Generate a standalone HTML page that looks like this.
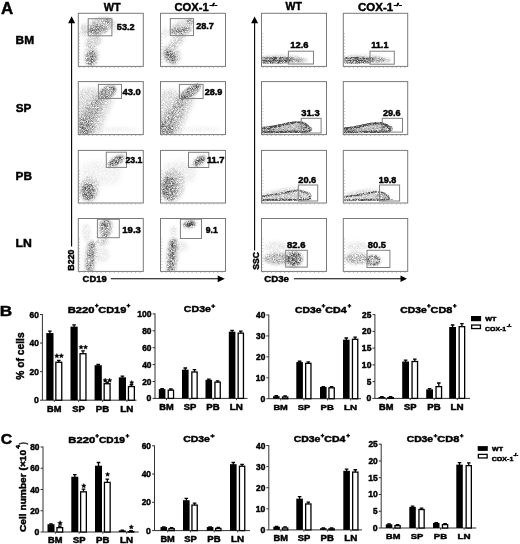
<!DOCTYPE html><html><head><meta charset="utf-8"><style>html,body{margin:0;padding:0;background:#fff;}svg{display:block;filter:grayscale(1) blur(0.3px);}text{font-family:"Liberation Sans",sans-serif;font-weight:bold;fill:#000;stroke:#000;stroke-width:0.45px;stroke-linejoin:round;}</style></head><body>
<svg width="520" height="544" viewBox="0 0 520 544">
<rect width="520" height="544" fill="#fff"/>
<defs>
<filter id="g0_5" filterUnits="userSpaceOnUse" x="-60" y="-60" width="200" height="200"><feGaussianBlur stdDeviation="0.5"/></filter>
<filter id="g0_6" filterUnits="userSpaceOnUse" x="-60" y="-60" width="200" height="200"><feGaussianBlur stdDeviation="0.6"/></filter>
<filter id="g0_7" filterUnits="userSpaceOnUse" x="-60" y="-60" width="200" height="200"><feGaussianBlur stdDeviation="0.7"/></filter>
<filter id="g0_8" filterUnits="userSpaceOnUse" x="-60" y="-60" width="200" height="200"><feGaussianBlur stdDeviation="0.8"/></filter>
<filter id="g0_9" filterUnits="userSpaceOnUse" x="-60" y="-60" width="200" height="200"><feGaussianBlur stdDeviation="0.9"/></filter>
<filter id="g1_0" filterUnits="userSpaceOnUse" x="-60" y="-60" width="200" height="200"><feGaussianBlur stdDeviation="1.0"/></filter>
<filter id="g1_1" filterUnits="userSpaceOnUse" x="-60" y="-60" width="200" height="200"><feGaussianBlur stdDeviation="1.1"/></filter>
<filter id="g1_2" filterUnits="userSpaceOnUse" x="-60" y="-60" width="200" height="200"><feGaussianBlur stdDeviation="1.2"/></filter>
<filter id="g1_3" filterUnits="userSpaceOnUse" x="-60" y="-60" width="200" height="200"><feGaussianBlur stdDeviation="1.3"/></filter>
<filter id="g1_6" filterUnits="userSpaceOnUse" x="-60" y="-60" width="200" height="200"><feGaussianBlur stdDeviation="1.6"/></filter>
<filter id="g2_0" filterUnits="userSpaceOnUse" x="-60" y="-60" width="200" height="200"><feGaussianBlur stdDeviation="2.0"/></filter>
<filter id="g2_5" filterUnits="userSpaceOnUse" x="-60" y="-60" width="200" height="200"><feGaussianBlur stdDeviation="2.5"/></filter>
<clipPath id="cp00"><rect x="78.80" y="13.80" width="64.00" height="52.00"/></clipPath>
<filter id="sp00" filterUnits="userSpaceOnUse" x="-2" y="-2" width="69.0" height="57.0" color-interpolation-filters="sRGB"><feGaussianBlur in="SourceGraphic" stdDeviation="0.4" result="b"/><feTurbulence type="fractalNoise" baseFrequency="1.8" numOctaves="1" seed="3" result="n"/><feColorMatrix in="n" type="matrix" values="0 0 0 0 0  0 0 0 0 0  0 0 0 0 0  1.8 0 0 0 -0.4" result="na"/><feComposite in="b" in2="na" operator="arithmetic" k1="1.6" k2="0" k3="0" k4="0" result="m"/><feFlood flood-color="#2a2a2a" flood-opacity="0.85"/><feComposite in2="m" operator="in"/><feGaussianBlur stdDeviation="0.3"/></filter>
<clipPath id="cp01"><rect x="161.00" y="13.80" width="64.00" height="52.00"/></clipPath>
<filter id="sp01" filterUnits="userSpaceOnUse" x="-2" y="-2" width="69.0" height="57.0" color-interpolation-filters="sRGB"><feGaussianBlur in="SourceGraphic" stdDeviation="0.4" result="b"/><feTurbulence type="fractalNoise" baseFrequency="1.8" numOctaves="1" seed="4" result="n"/><feColorMatrix in="n" type="matrix" values="0 0 0 0 0  0 0 0 0 0  0 0 0 0 0  1.8 0 0 0 -0.4" result="na"/><feComposite in="b" in2="na" operator="arithmetic" k1="1.6" k2="0" k3="0" k4="0" result="m"/><feFlood flood-color="#2a2a2a" flood-opacity="0.85"/><feComposite in2="m" operator="in"/><feGaussianBlur stdDeviation="0.3"/></filter>
<clipPath id="cp02"><rect x="262.00" y="13.80" width="64.00" height="52.00"/></clipPath>
<filter id="sp02" filterUnits="userSpaceOnUse" x="-2" y="-2" width="69.0" height="57.0" color-interpolation-filters="sRGB"><feGaussianBlur in="SourceGraphic" stdDeviation="0.4" result="b"/><feTurbulence type="fractalNoise" baseFrequency="1.8" numOctaves="1" seed="5" result="n"/><feColorMatrix in="n" type="matrix" values="0 0 0 0 0  0 0 0 0 0  0 0 0 0 0  1.6 0 0 0 -0.30000000000000004" result="na"/><feComposite in="b" in2="na" operator="arithmetic" k1="1.7" k2="0" k3="0" k4="0" result="m"/><feFlood flood-color="#2a2a2a" flood-opacity="0.85"/><feComposite in2="m" operator="in"/><feGaussianBlur stdDeviation="0.3"/></filter>
<clipPath id="cp03"><rect x="343.80" y="13.80" width="64.00" height="52.00"/></clipPath>
<filter id="sp03" filterUnits="userSpaceOnUse" x="-2" y="-2" width="69.0" height="57.0" color-interpolation-filters="sRGB"><feGaussianBlur in="SourceGraphic" stdDeviation="0.4" result="b"/><feTurbulence type="fractalNoise" baseFrequency="1.8" numOctaves="1" seed="6" result="n"/><feColorMatrix in="n" type="matrix" values="0 0 0 0 0  0 0 0 0 0  0 0 0 0 0  1.6 0 0 0 -0.30000000000000004" result="na"/><feComposite in="b" in2="na" operator="arithmetic" k1="1.7" k2="0" k3="0" k4="0" result="m"/><feFlood flood-color="#2a2a2a" flood-opacity="0.85"/><feComposite in2="m" operator="in"/><feGaussianBlur stdDeviation="0.3"/></filter>
<clipPath id="cp10"><rect x="78.80" y="82.10" width="64.00" height="52.00"/></clipPath>
<filter id="sp10" filterUnits="userSpaceOnUse" x="-2" y="-2" width="69.0" height="57.0" color-interpolation-filters="sRGB"><feGaussianBlur in="SourceGraphic" stdDeviation="0.4" result="b"/><feTurbulence type="fractalNoise" baseFrequency="1.8" numOctaves="1" seed="7" result="n"/><feColorMatrix in="n" type="matrix" values="0 0 0 0 0  0 0 0 0 0  0 0 0 0 0  1.8 0 0 0 -0.4" result="na"/><feComposite in="b" in2="na" operator="arithmetic" k1="1.6" k2="0" k3="0" k4="0" result="m"/><feFlood flood-color="#2a2a2a" flood-opacity="0.85"/><feComposite in2="m" operator="in"/><feGaussianBlur stdDeviation="0.3"/></filter>
<clipPath id="cp11"><rect x="161.00" y="82.10" width="64.00" height="52.00"/></clipPath>
<filter id="sp11" filterUnits="userSpaceOnUse" x="-2" y="-2" width="69.0" height="57.0" color-interpolation-filters="sRGB"><feGaussianBlur in="SourceGraphic" stdDeviation="0.4" result="b"/><feTurbulence type="fractalNoise" baseFrequency="1.8" numOctaves="1" seed="8" result="n"/><feColorMatrix in="n" type="matrix" values="0 0 0 0 0  0 0 0 0 0  0 0 0 0 0  1.8 0 0 0 -0.4" result="na"/><feComposite in="b" in2="na" operator="arithmetic" k1="1.6" k2="0" k3="0" k4="0" result="m"/><feFlood flood-color="#2a2a2a" flood-opacity="0.85"/><feComposite in2="m" operator="in"/><feGaussianBlur stdDeviation="0.3"/></filter>
<clipPath id="cp12"><rect x="262.00" y="82.10" width="64.00" height="52.00"/></clipPath>
<filter id="sp12" filterUnits="userSpaceOnUse" x="-2" y="-2" width="69.0" height="57.0" color-interpolation-filters="sRGB"><feGaussianBlur in="SourceGraphic" stdDeviation="0.4" result="b"/><feTurbulence type="fractalNoise" baseFrequency="1.8" numOctaves="1" seed="9" result="n"/><feColorMatrix in="n" type="matrix" values="0 0 0 0 0  0 0 0 0 0  0 0 0 0 0  1.4 0 0 0 -0.19999999999999996" result="na"/><feComposite in="b" in2="na" operator="arithmetic" k1="1.8" k2="0" k3="0" k4="0" result="m"/><feFlood flood-color="#2a2a2a" flood-opacity="0.85"/><feComposite in2="m" operator="in"/><feGaussianBlur stdDeviation="0.3"/></filter>
<clipPath id="cp13"><rect x="343.80" y="82.10" width="64.00" height="52.00"/></clipPath>
<filter id="sp13" filterUnits="userSpaceOnUse" x="-2" y="-2" width="69.0" height="57.0" color-interpolation-filters="sRGB"><feGaussianBlur in="SourceGraphic" stdDeviation="0.4" result="b"/><feTurbulence type="fractalNoise" baseFrequency="1.8" numOctaves="1" seed="10" result="n"/><feColorMatrix in="n" type="matrix" values="0 0 0 0 0  0 0 0 0 0  0 0 0 0 0  1.4 0 0 0 -0.19999999999999996" result="na"/><feComposite in="b" in2="na" operator="arithmetic" k1="1.8" k2="0" k3="0" k4="0" result="m"/><feFlood flood-color="#2a2a2a" flood-opacity="0.85"/><feComposite in2="m" operator="in"/><feGaussianBlur stdDeviation="0.3"/></filter>
<clipPath id="cp20"><rect x="78.80" y="150.90" width="64.00" height="52.00"/></clipPath>
<filter id="sp20" filterUnits="userSpaceOnUse" x="-2" y="-2" width="69.0" height="57.0" color-interpolation-filters="sRGB"><feGaussianBlur in="SourceGraphic" stdDeviation="0.4" result="b"/><feTurbulence type="fractalNoise" baseFrequency="1.8" numOctaves="1" seed="11" result="n"/><feColorMatrix in="n" type="matrix" values="0 0 0 0 0  0 0 0 0 0  0 0 0 0 0  1.8 0 0 0 -0.4" result="na"/><feComposite in="b" in2="na" operator="arithmetic" k1="1.6" k2="0" k3="0" k4="0" result="m"/><feFlood flood-color="#2a2a2a" flood-opacity="0.85"/><feComposite in2="m" operator="in"/><feGaussianBlur stdDeviation="0.3"/></filter>
<clipPath id="cp21"><rect x="161.00" y="150.90" width="64.00" height="52.00"/></clipPath>
<filter id="sp21" filterUnits="userSpaceOnUse" x="-2" y="-2" width="69.0" height="57.0" color-interpolation-filters="sRGB"><feGaussianBlur in="SourceGraphic" stdDeviation="0.4" result="b"/><feTurbulence type="fractalNoise" baseFrequency="1.8" numOctaves="1" seed="12" result="n"/><feColorMatrix in="n" type="matrix" values="0 0 0 0 0  0 0 0 0 0  0 0 0 0 0  1.8 0 0 0 -0.4" result="na"/><feComposite in="b" in2="na" operator="arithmetic" k1="1.6" k2="0" k3="0" k4="0" result="m"/><feFlood flood-color="#2a2a2a" flood-opacity="0.85"/><feComposite in2="m" operator="in"/><feGaussianBlur stdDeviation="0.3"/></filter>
<clipPath id="cp22"><rect x="262.00" y="150.90" width="64.00" height="52.00"/></clipPath>
<filter id="sp22" filterUnits="userSpaceOnUse" x="-2" y="-2" width="69.0" height="57.0" color-interpolation-filters="sRGB"><feGaussianBlur in="SourceGraphic" stdDeviation="0.4" result="b"/><feTurbulence type="fractalNoise" baseFrequency="1.8" numOctaves="1" seed="13" result="n"/><feColorMatrix in="n" type="matrix" values="0 0 0 0 0  0 0 0 0 0  0 0 0 0 0  1.8 0 0 0 -0.4" result="na"/><feComposite in="b" in2="na" operator="arithmetic" k1="1.6" k2="0" k3="0" k4="0" result="m"/><feFlood flood-color="#2a2a2a" flood-opacity="0.85"/><feComposite in2="m" operator="in"/><feGaussianBlur stdDeviation="0.3"/></filter>
<clipPath id="cp23"><rect x="343.80" y="150.90" width="64.00" height="52.00"/></clipPath>
<filter id="sp23" filterUnits="userSpaceOnUse" x="-2" y="-2" width="69.0" height="57.0" color-interpolation-filters="sRGB"><feGaussianBlur in="SourceGraphic" stdDeviation="0.4" result="b"/><feTurbulence type="fractalNoise" baseFrequency="1.8" numOctaves="1" seed="14" result="n"/><feColorMatrix in="n" type="matrix" values="0 0 0 0 0  0 0 0 0 0  0 0 0 0 0  1.8 0 0 0 -0.4" result="na"/><feComposite in="b" in2="na" operator="arithmetic" k1="1.6" k2="0" k3="0" k4="0" result="m"/><feFlood flood-color="#2a2a2a" flood-opacity="0.85"/><feComposite in2="m" operator="in"/><feGaussianBlur stdDeviation="0.3"/></filter>
<clipPath id="cp30"><rect x="78.80" y="219.00" width="64.00" height="52.00"/></clipPath>
<filter id="sp30" filterUnits="userSpaceOnUse" x="-2" y="-2" width="69.0" height="57.0" color-interpolation-filters="sRGB"><feGaussianBlur in="SourceGraphic" stdDeviation="0.4" result="b"/><feTurbulence type="fractalNoise" baseFrequency="1.8" numOctaves="1" seed="15" result="n"/><feColorMatrix in="n" type="matrix" values="0 0 0 0 0  0 0 0 0 0  0 0 0 0 0  1.8 0 0 0 -0.4" result="na"/><feComposite in="b" in2="na" operator="arithmetic" k1="1.6" k2="0" k3="0" k4="0" result="m"/><feFlood flood-color="#2a2a2a" flood-opacity="0.85"/><feComposite in2="m" operator="in"/><feGaussianBlur stdDeviation="0.3"/></filter>
<clipPath id="cp31"><rect x="161.00" y="219.00" width="64.00" height="52.00"/></clipPath>
<filter id="sp31" filterUnits="userSpaceOnUse" x="-2" y="-2" width="69.0" height="57.0" color-interpolation-filters="sRGB"><feGaussianBlur in="SourceGraphic" stdDeviation="0.4" result="b"/><feTurbulence type="fractalNoise" baseFrequency="1.8" numOctaves="1" seed="16" result="n"/><feColorMatrix in="n" type="matrix" values="0 0 0 0 0  0 0 0 0 0  0 0 0 0 0  1.8 0 0 0 -0.4" result="na"/><feComposite in="b" in2="na" operator="arithmetic" k1="1.6" k2="0" k3="0" k4="0" result="m"/><feFlood flood-color="#2a2a2a" flood-opacity="0.85"/><feComposite in2="m" operator="in"/><feGaussianBlur stdDeviation="0.3"/></filter>
<clipPath id="cp32"><rect x="262.00" y="219.00" width="64.00" height="52.00"/></clipPath>
<filter id="sp32" filterUnits="userSpaceOnUse" x="-2" y="-2" width="69.0" height="57.0" color-interpolation-filters="sRGB"><feGaussianBlur in="SourceGraphic" stdDeviation="0.4" result="b"/><feTurbulence type="fractalNoise" baseFrequency="1.8" numOctaves="1" seed="17" result="n"/><feColorMatrix in="n" type="matrix" values="0 0 0 0 0  0 0 0 0 0  0 0 0 0 0  1.8 0 0 0 -0.4" result="na"/><feComposite in="b" in2="na" operator="arithmetic" k1="1.6" k2="0" k3="0" k4="0" result="m"/><feFlood flood-color="#2a2a2a" flood-opacity="0.85"/><feComposite in2="m" operator="in"/><feGaussianBlur stdDeviation="0.3"/></filter>
<clipPath id="cp33"><rect x="343.80" y="219.00" width="64.00" height="52.00"/></clipPath>
<filter id="sp33" filterUnits="userSpaceOnUse" x="-2" y="-2" width="69.0" height="57.0" color-interpolation-filters="sRGB"><feGaussianBlur in="SourceGraphic" stdDeviation="0.4" result="b"/><feTurbulence type="fractalNoise" baseFrequency="1.8" numOctaves="1" seed="18" result="n"/><feColorMatrix in="n" type="matrix" values="0 0 0 0 0  0 0 0 0 0  0 0 0 0 0  1.8 0 0 0 -0.4" result="na"/><feComposite in="b" in2="na" operator="arithmetic" k1="1.6" k2="0" k3="0" k4="0" result="m"/><feFlood flood-color="#2a2a2a" flood-opacity="0.85"/><feComposite in2="m" operator="in"/><feGaussianBlur stdDeviation="0.3"/></filter>
</defs>
<g clip-path="url(#cp00)"><g transform="translate(78.30,13.30)"><g filter="url(#sp00)">
<ellipse cx="22" cy="12" rx="13" ry="7.5" transform="rotate(-15 22 12)" fill="#000" fill-opacity="0.32" filter="url(#g1_6)"/>
<ellipse cx="19" cy="16.5" rx="10" ry="4.5" transform="rotate(-8 19 16.5)" fill="#000" fill-opacity="0.55" filter="url(#g1_6)"/>
<ellipse cx="29" cy="7.5" rx="3" ry="2.2" transform="rotate(-40 29 7.5)" fill="#000" fill-opacity="0.6" filter="url(#g1_0)"/>
<ellipse cx="6" cy="17" rx="4" ry="7" transform="rotate(0 6 17)" fill="#000" fill-opacity="0.2" filter="url(#g1_6)"/>
<ellipse cx="15" cy="28" rx="9" ry="6" transform="rotate(-30 15 28)" fill="#000" fill-opacity="0.25" filter="url(#g1_6)"/>
<ellipse cx="13" cy="45" rx="5" ry="8" transform="rotate(10 13 45)" fill="#000" fill-opacity="0.6" filter="url(#g1_6)"/>
<ellipse cx="13" cy="43" rx="8" ry="10" transform="rotate(0 13 43)" fill="#000" fill-opacity="0.2" filter="url(#g1_6)"/>
<ellipse cx="36" cy="13" rx="4" ry="6" transform="rotate(0 36 13)" fill="#000" fill-opacity="0.1" filter="url(#g1_6)"/>
</g></g></g>
<g clip-path="url(#cp01)"><g transform="translate(160.50,13.30)"><g filter="url(#sp01)">
<ellipse cx="20" cy="17.5" rx="11" ry="3.5" transform="rotate(-5 20 17.5)" fill="#000" fill-opacity="0.55" filter="url(#g1_6)"/>
<ellipse cx="22" cy="13" rx="12" ry="6" transform="rotate(-20 22 13)" fill="#000" fill-opacity="0.22" filter="url(#g1_6)"/>
<ellipse cx="29.5" cy="8" rx="3" ry="2" transform="rotate(-40 29.5 8)" fill="#000" fill-opacity="0.6" filter="url(#g1_0)"/>
<ellipse cx="17" cy="27" rx="10" ry="5" transform="rotate(-45 17 27)" fill="#000" fill-opacity="0.25" filter="url(#g1_6)"/>
<ellipse cx="10" cy="43" rx="5" ry="8" transform="rotate(-35 10 43)" fill="#000" fill-opacity="0.6" filter="url(#g1_6)"/>
<ellipse cx="11" cy="41" rx="9" ry="11" transform="rotate(-35 11 41)" fill="#000" fill-opacity="0.2" filter="url(#g1_6)"/>
<ellipse cx="5" cy="20" rx="3" ry="6" transform="rotate(0 5 20)" fill="#000" fill-opacity="0.12" filter="url(#g1_6)"/>
</g></g></g>
<g clip-path="url(#cp02)"><g transform="translate(261.50,13.30)"><g filter="url(#sp02)">
<ellipse cx="14" cy="46.5" rx="17" ry="3.3" transform="rotate(0 14 46.5)" fill="#000" fill-opacity="0.55" filter="url(#g0_8)"/>
<ellipse cx="13" cy="44.6" rx="17" ry="1.0" transform="rotate(0 13 44.6)" fill="#000" fill-opacity="0.8" filter="url(#g0_5)"/>
<ellipse cx="13" cy="47.3" rx="17" ry="1.0" transform="rotate(0 13 47.3)" fill="#000" fill-opacity="0.9" filter="url(#g0_5)"/>
<ellipse cx="12" cy="49.6" rx="15" ry="0.8" transform="rotate(0 12 49.6)" fill="#000" fill-opacity="0.6" filter="url(#g0_5)"/>
<ellipse cx="31" cy="46.5" rx="10" ry="2.8" transform="rotate(0 31 46.5)" fill="#000" fill-opacity="0.5" filter="url(#g1_0)"/>
<ellipse cx="40" cy="47" rx="6" ry="2.4" transform="rotate(0 40 47)" fill="#000" fill-opacity="0.25" filter="url(#g1_2)"/>
<ellipse cx="20" cy="42.2" rx="18" ry="1.0" transform="rotate(0 20 42.2)" fill="#000" fill-opacity="0.15" filter="url(#g1_0)"/>
</g></g></g>
<g clip-path="url(#cp03)"><g transform="translate(343.30,13.30)"><g filter="url(#sp03)">
<ellipse cx="14" cy="46.5" rx="17" ry="3.3" transform="rotate(0 14 46.5)" fill="#000" fill-opacity="0.55" filter="url(#g0_8)"/>
<ellipse cx="13" cy="44.6" rx="17" ry="1.0" transform="rotate(0 13 44.6)" fill="#000" fill-opacity="0.8" filter="url(#g0_5)"/>
<ellipse cx="13" cy="47.3" rx="17" ry="1.0" transform="rotate(0 13 47.3)" fill="#000" fill-opacity="0.9" filter="url(#g0_5)"/>
<ellipse cx="12" cy="49.6" rx="15" ry="0.8" transform="rotate(0 12 49.6)" fill="#000" fill-opacity="0.6" filter="url(#g0_5)"/>
<ellipse cx="32" cy="46.5" rx="10" ry="2.8" transform="rotate(0 32 46.5)" fill="#000" fill-opacity="0.5" filter="url(#g1_0)"/>
<ellipse cx="42" cy="47" rx="6" ry="2.4" transform="rotate(0 42 47)" fill="#000" fill-opacity="0.25" filter="url(#g1_2)"/>
<ellipse cx="20" cy="42.2" rx="18" ry="1.0" transform="rotate(0 20 42.2)" fill="#000" fill-opacity="0.15" filter="url(#g1_0)"/>
</g></g></g>
<g clip-path="url(#cp10)"><g transform="translate(78.30,81.60)"><g filter="url(#sp10)">
<polygon points="0,8 14,6 36,16 21,53 0,53" fill="#000" fill-opacity="0.2" filter="url(#g2_0)"/>
<polygon points="0,36 17,14 27,16 13,53 0,53" fill="#000" fill-opacity="0.35" filter="url(#g2_5)"/>
<ellipse cx="6" cy="45" rx="7" ry="9" transform="rotate(-25 6 45)" fill="#000" fill-opacity="0.4" filter="url(#g1_6)"/>
<ellipse cx="29.5" cy="10.5" rx="7.5" ry="4.6" transform="rotate(-25 29.5 10.5)" fill="#000" fill-opacity="0.5" filter="url(#g1_2)"/>
<ellipse cx="29.5" cy="10.5" rx="7.5" ry="4.6" transform="rotate(-25 29.5 10.5)" fill="none" stroke="#000" stroke-opacity="0.8" stroke-width="2.0" filter="url(#g0_8)"/>
<ellipse cx="35" cy="6.5" rx="3" ry="2" transform="rotate(-30 35 6.5)" fill="#000" fill-opacity="0.35" filter="url(#g1_0)"/>
<ellipse cx="38" cy="48" rx="22" ry="2.5" transform="rotate(0 38 48)" fill="#000" fill-opacity="0.07" filter="url(#g1_6)"/>
</g></g></g>
<g clip-path="url(#cp11)"><g transform="translate(160.50,81.60)"><g filter="url(#sp11)">
<polygon points="0,10 10,7 24,12 36,14 19,53 0,53" fill="#000" fill-opacity="0.2" filter="url(#g2_0)"/>
<polygon points="0,38 19,15 28,15 13,53 0,53" fill="#000" fill-opacity="0.35" filter="url(#g2_5)"/>
<ellipse cx="6" cy="46" rx="7" ry="8" transform="rotate(-30 6 46)" fill="#000" fill-opacity="0.4" filter="url(#g1_6)"/>
<ellipse cx="30" cy="10" rx="10.5" ry="3.3" transform="rotate(-33 30 10)" fill="#000" fill-opacity="0.5" filter="url(#g1_2)"/>
<ellipse cx="30" cy="10" rx="10.5" ry="3.3" transform="rotate(-33 30 10)" fill="none" stroke="#000" stroke-opacity="0.8" stroke-width="1.9" filter="url(#g0_8)"/>
<ellipse cx="37" cy="4.5" rx="3" ry="1.5" transform="rotate(-33 37 4.5)" fill="#000" fill-opacity="0.4" filter="url(#g1_0)"/>
<ellipse cx="38" cy="48" rx="22" ry="2.5" transform="rotate(0 38 48)" fill="#000" fill-opacity="0.07" filter="url(#g1_6)"/>
</g></g></g>
<g clip-path="url(#cp20)"><g transform="translate(78.30,150.40)"><g filter="url(#sp20)">
<ellipse cx="10" cy="41" rx="7" ry="9" transform="rotate(0 10 41)" fill="#000" fill-opacity="0.62" filter="url(#g1_6)"/>
<ellipse cx="11" cy="39" rx="10" ry="13" transform="rotate(0 11 39)" fill="#000" fill-opacity="0.2" filter="url(#g1_6)"/>
<polygon points="3,14 20,10 44,18 40,32 20,36 4,34" fill="#000" fill-opacity="0.08" filter="url(#g2_5)"/>
<ellipse cx="38" cy="10.5" rx="8.5" ry="3.4" transform="rotate(-32 38 10.5)" fill="#000" fill-opacity="0.8" filter="url(#g1_1)"/>
<ellipse cx="38" cy="10.5" rx="10" ry="5" transform="rotate(-32 38 10.5)" fill="#000" fill-opacity="0.2" filter="url(#g1_6)"/>
</g></g></g>
<g clip-path="url(#cp21)"><g transform="translate(160.50,150.40)"><g filter="url(#sp21)">
<ellipse cx="9" cy="38" rx="8" ry="12" transform="rotate(0 9 38)" fill="#000" fill-opacity="0.58" filter="url(#g1_6)"/>
<ellipse cx="12" cy="35" rx="12" ry="16" transform="rotate(0 12 35)" fill="#000" fill-opacity="0.22" filter="url(#g1_6)"/>
<polygon points="3,14 20,10 36,18 34,30 18,34 4,32" fill="#000" fill-opacity="0.1" filter="url(#g2_5)"/>
<ellipse cx="39" cy="10.5" rx="6.5" ry="3.2" transform="rotate(-38 39 10.5)" fill="#000" fill-opacity="0.85" filter="url(#g1_1)"/>
<ellipse cx="39" cy="10.5" rx="8" ry="4.5" transform="rotate(-38 39 10.5)" fill="#000" fill-opacity="0.2" filter="url(#g1_6)"/>
</g></g></g>
<g clip-path="url(#cp30)"><g transform="translate(78.30,218.50)"><g filter="url(#sp30)">
<polygon points="10.5,24 16.5,24 14.5,53 7.5,53" fill="#000" fill-opacity="0.55" filter="url(#g1_6)"/>
<ellipse cx="12.5" cy="38" rx="7" ry="17" transform="rotate(5 12.5 38)" fill="#000" fill-opacity="0.15" filter="url(#g1_6)"/>
<ellipse cx="27.5" cy="9.5" rx="6" ry="10" transform="rotate(5 27.5 9.5)" fill="#000" fill-opacity="0.55" filter="url(#g1_6)"/>
<ellipse cx="26.5" cy="5" rx="5" ry="4" transform="rotate(0 26.5 5)" fill="#000" fill-opacity="0.3" filter="url(#g1_6)"/>
<ellipse cx="24" cy="23" rx="6" ry="4" transform="rotate(0 24 23)" fill="#000" fill-opacity="0.25" filter="url(#g1_6)"/>
<ellipse cx="8" cy="14" rx="4" ry="9" transform="rotate(0 8 14)" fill="#000" fill-opacity="0.12" filter="url(#g1_6)"/>
<ellipse cx="24" cy="36" rx="7" ry="8" transform="rotate(0 24 36)" fill="#000" fill-opacity="0.1" filter="url(#g1_6)"/>
</g></g></g>
<g clip-path="url(#cp31)"><g transform="translate(160.50,218.50)"><g filter="url(#sp31)">
<polygon points="9.5,21 16,21 14.5,53 6.5,53" fill="#000" fill-opacity="0.62" filter="url(#g1_6)"/>
<ellipse cx="12" cy="36" rx="7" ry="17" transform="rotate(5 12 36)" fill="#000" fill-opacity="0.15" filter="url(#g1_6)"/>
<ellipse cx="13" cy="13" rx="3" ry="6" transform="rotate(0 13 13)" fill="#000" fill-opacity="0.15" filter="url(#g1_6)"/>
<ellipse cx="29" cy="5.8" rx="5.5" ry="2.8" transform="rotate(-8 29 5.8)" fill="#000" fill-opacity="1.0" filter="url(#g0_9)"/>
<ellipse cx="29" cy="5.8" rx="6.5" ry="3.8" transform="rotate(-8 29 5.8)" fill="#000" fill-opacity="0.3" filter="url(#g1_6)"/>
<ellipse cx="22" cy="28" rx="6" ry="5" transform="rotate(0 22 28)" fill="#000" fill-opacity="0.1" filter="url(#g1_6)"/>
</g></g></g>
<g clip-path="url(#cp12)"><g transform="translate(261.50,81.60)"><g filter="url(#sp12)">
<path d="M0,46.5 C10,46 18,44 26,42 C33,40.5 38,40 42,41.5 C45,43 47,45 48,48 C49,50 44,50.5 38,50 L10,50.5 L0,50.5 Z" fill="#000" fill-opacity="0.35" stroke="#000" stroke-opacity="1.0" stroke-width="2.2" stroke-linejoin="round" filter="url(#g0_6)"/>
<ellipse cx="6" cy="48" rx="8" ry="2.2" transform="rotate(0 6 48)" fill="#000" fill-opacity="0.55" filter="url(#g0_9)"/>
<ellipse cx="46" cy="47.5" rx="4" ry="2.2" transform="rotate(0 46 47.5)" fill="none" stroke="#000" stroke-opacity="0.7" stroke-width="1.5" filter="url(#g0_7)"/>
<ellipse cx="30" cy="46" rx="20" ry="3.5" transform="rotate(-5 30 46)" fill="#000" fill-opacity="0.1" filter="url(#g1_6)"/>
<ellipse cx="25" cy="50.2" rx="25" ry="0.7" transform="rotate(0 25 50.2)" fill="#000" fill-opacity="0.4" filter="url(#g0_5)"/>
</g></g></g>
<g clip-path="url(#cp13)"><g transform="translate(343.30,81.60)"><g filter="url(#sp13)">
<path d="M0,47 C10,46.5 18,44.5 26,42.5 C33,41 37,41 41,42.5 C44,44 46,45.5 47,48 C47.5,50 44,50.5 38,50 L10,50.5 L0,50.5 Z" fill="#000" fill-opacity="0.35" stroke="#000" stroke-opacity="1.0" stroke-width="2.2" stroke-linejoin="round" filter="url(#g0_6)"/>
<ellipse cx="6" cy="48.5" rx="8" ry="2" transform="rotate(0 6 48.5)" fill="#000" fill-opacity="0.55" filter="url(#g0_9)"/>
<ellipse cx="44" cy="47" rx="5" ry="2.4" transform="rotate(0 44 47)" fill="none" stroke="#000" stroke-opacity="0.6" stroke-width="1.5" filter="url(#g0_7)"/>
<ellipse cx="30" cy="46" rx="20" ry="3.5" transform="rotate(-5 30 46)" fill="#000" fill-opacity="0.1" filter="url(#g1_6)"/>
<ellipse cx="25" cy="50.2" rx="25" ry="0.7" transform="rotate(0 25 50.2)" fill="#000" fill-opacity="0.4" filter="url(#g0_5)"/>
</g></g></g>
<g clip-path="url(#cp22)"><g transform="translate(261.50,150.40)"><g filter="url(#sp22)">
<path d="M0,46 C10,45 22,43 32,40.5 C37,39.5 41,40 44,42 C47,44 49,46 49,48.5 C45,50 38,49.5 30,49.5 L0,50 Z" fill="#000" fill-opacity="0.3" stroke="#000" stroke-opacity="0.85" stroke-width="1.6" stroke-linejoin="round" filter="url(#g0_6)"/>
<ellipse cx="25" cy="49.3" rx="25" ry="0.9" transform="rotate(0 25 49.3)" fill="#000" fill-opacity="0.65" filter="url(#g0_5)"/>
<ellipse cx="44" cy="45" rx="5.5" ry="3.3" transform="rotate(0 44 45)" fill="none" stroke="#000" stroke-opacity="0.55" stroke-width="1.5" filter="url(#g0_7)"/>
<ellipse cx="20" cy="41.5" rx="18" ry="2.5" transform="rotate(-6 20 41.5)" fill="#000" fill-opacity="0.2" filter="url(#g1_3)"/>
<ellipse cx="28" cy="38.5" rx="12" ry="1.5" transform="rotate(-6 28 38.5)" fill="#000" fill-opacity="0.1" filter="url(#g1_3)"/>
</g></g></g>
<g clip-path="url(#cp23)"><g transform="translate(343.30,150.40)"><g filter="url(#sp23)">
<path d="M0,46.5 C10,45.5 22,43.5 31,41.5 C35,41 38,41 41,43 C44,44.5 46,46 46,48.5 C42,50 36,49.5 30,49.5 L0,50 Z" fill="#000" fill-opacity="0.3" stroke="#000" stroke-opacity="0.85" stroke-width="1.6" stroke-linejoin="round" filter="url(#g0_6)"/>
<ellipse cx="25" cy="49.3" rx="25" ry="0.9" transform="rotate(0 25 49.3)" fill="#000" fill-opacity="0.65" filter="url(#g0_5)"/>
<ellipse cx="40" cy="46" rx="6" ry="3" transform="rotate(0 40 46)" fill="#000" fill-opacity="0.35" filter="url(#g1_6)"/>
<ellipse cx="18" cy="42.5" rx="16" ry="2.5" transform="rotate(-6 18 42.5)" fill="#000" fill-opacity="0.2" filter="url(#g1_3)"/>
<ellipse cx="26" cy="39.5" rx="12" ry="1.5" transform="rotate(-6 26 39.5)" fill="#000" fill-opacity="0.1" filter="url(#g1_3)"/>
</g></g></g>
<g clip-path="url(#cp32)"><g transform="translate(261.50,218.50)"><g filter="url(#sp32)">
<ellipse cx="33" cy="40.5" rx="7.5" ry="7" transform="rotate(0 33 40.5)" fill="#000" fill-opacity="0.75" filter="url(#g1_6)"/>
<ellipse cx="31" cy="40.5" rx="10" ry="8.5" transform="rotate(0 31 40.5)" fill="#000" fill-opacity="0.2" filter="url(#g1_6)"/>
<ellipse cx="15" cy="40" rx="13" ry="6" transform="rotate(0 15 40)" fill="#000" fill-opacity="0.4" filter="url(#g1_6)"/>
<ellipse cx="14" cy="28" rx="12" ry="5" transform="rotate(0 14 28)" fill="#000" fill-opacity="0.12" filter="url(#g1_6)"/>
</g></g></g>
<g clip-path="url(#cp33)"><g transform="translate(343.30,218.50)"><g filter="url(#sp33)">
<ellipse cx="30" cy="42" rx="6" ry="3.8" transform="rotate(0 30 42)" fill="none" stroke="#000" stroke-opacity="0.9" stroke-width="2.2" filter="url(#g0_9)"/>
<ellipse cx="30" cy="42" rx="7" ry="4.5" transform="rotate(0 30 42)" fill="#000" fill-opacity="0.3" filter="url(#g1_6)"/>
<ellipse cx="13" cy="40" rx="12" ry="6" transform="rotate(0 13 40)" fill="#000" fill-opacity="0.38" filter="url(#g1_6)"/>
<ellipse cx="14" cy="28" rx="11" ry="5" transform="rotate(0 14 28)" fill="#000" fill-opacity="0.12" filter="url(#g1_6)"/>
</g></g></g>
<g fill="none" stroke="#7a7a7a" stroke-width="1">
<rect x="78.30" y="13.30" width="65.00" height="53.10"/>
<rect x="78.30" y="81.60" width="65.00" height="53.00"/>
<rect x="78.30" y="150.40" width="65.00" height="52.60"/>
<rect x="78.30" y="218.50" width="65.00" height="52.90"/>
<rect x="160.50" y="13.30" width="65.00" height="53.10"/>
<rect x="160.50" y="81.60" width="65.00" height="53.00"/>
<rect x="160.50" y="150.40" width="65.00" height="52.60"/>
<rect x="160.50" y="218.50" width="65.00" height="52.90"/>
<rect x="261.50" y="13.30" width="65.00" height="53.10"/>
<rect x="261.50" y="81.60" width="65.00" height="53.00"/>
<rect x="261.50" y="150.40" width="65.00" height="52.60"/>
<rect x="261.50" y="218.50" width="65.00" height="52.90"/>
<rect x="343.30" y="13.30" width="64.40" height="53.10"/>
<rect x="343.30" y="81.60" width="64.40" height="53.00"/>
<rect x="343.30" y="150.40" width="64.40" height="52.60"/>
<rect x="343.30" y="218.50" width="64.40" height="52.90"/>
</g>
<g fill="none" stroke="#a8a8a8" stroke-width="0.8">
<path d="M79.60,33.30 V65.40" stroke-width="0.9" stroke-dasharray="0.8 2.4"/>
<path d="M79.30,67.40 H141.30" stroke-width="0.9" stroke-dasharray="0.9 3.4"/>
<path d="M79.60,101.60 V133.60" stroke-width="0.9" stroke-dasharray="0.8 2.4"/>
<path d="M79.30,135.60 H141.30" stroke-width="0.9" stroke-dasharray="0.9 3.4"/>
<path d="M79.60,170.40 V202.00" stroke-width="0.9" stroke-dasharray="0.8 2.4"/>
<path d="M79.30,204.00 H141.30" stroke-width="0.9" stroke-dasharray="0.9 3.4"/>
<path d="M79.60,238.50 V270.40" stroke-width="0.9" stroke-dasharray="0.8 2.4"/>
<path d="M79.30,272.40 H141.30" stroke-width="0.9" stroke-dasharray="0.9 3.4"/>
<path d="M161.80,33.30 V65.40" stroke-width="0.9" stroke-dasharray="0.8 2.4"/>
<path d="M161.50,67.40 H223.50" stroke-width="0.9" stroke-dasharray="0.9 3.4"/>
<path d="M161.80,101.60 V133.60" stroke-width="0.9" stroke-dasharray="0.8 2.4"/>
<path d="M161.50,135.60 H223.50" stroke-width="0.9" stroke-dasharray="0.9 3.4"/>
<path d="M161.80,170.40 V202.00" stroke-width="0.9" stroke-dasharray="0.8 2.4"/>
<path d="M161.50,204.00 H223.50" stroke-width="0.9" stroke-dasharray="0.9 3.4"/>
<path d="M161.80,238.50 V270.40" stroke-width="0.9" stroke-dasharray="0.8 2.4"/>
<path d="M161.50,272.40 H223.50" stroke-width="0.9" stroke-dasharray="0.9 3.4"/>
<path d="M262.80,33.30 V65.40" stroke-width="0.9" stroke-dasharray="0.8 2.4"/>
<path d="M262.50,67.40 H324.50" stroke-width="0.9" stroke-dasharray="0.9 3.4"/>
<path d="M262.80,101.60 V133.60" stroke-width="0.9" stroke-dasharray="0.8 2.4"/>
<path d="M262.50,135.60 H324.50" stroke-width="0.9" stroke-dasharray="0.9 3.4"/>
<path d="M262.80,170.40 V202.00" stroke-width="0.9" stroke-dasharray="0.8 2.4"/>
<path d="M262.50,204.00 H324.50" stroke-width="0.9" stroke-dasharray="0.9 3.4"/>
<path d="M262.80,238.50 V270.40" stroke-width="0.9" stroke-dasharray="0.8 2.4"/>
<path d="M262.50,272.40 H324.50" stroke-width="0.9" stroke-dasharray="0.9 3.4"/>
<path d="M344.60,33.30 V65.40" stroke-width="0.9" stroke-dasharray="0.8 2.4"/>
<path d="M344.30,67.40 H405.70" stroke-width="0.9" stroke-dasharray="0.9 3.4"/>
<path d="M344.60,101.60 V133.60" stroke-width="0.9" stroke-dasharray="0.8 2.4"/>
<path d="M344.30,135.60 H405.70" stroke-width="0.9" stroke-dasharray="0.9 3.4"/>
<path d="M344.60,170.40 V202.00" stroke-width="0.9" stroke-dasharray="0.8 2.4"/>
<path d="M344.30,204.00 H405.70" stroke-width="0.9" stroke-dasharray="0.9 3.4"/>
<path d="M344.60,238.50 V270.40" stroke-width="0.9" stroke-dasharray="0.8 2.4"/>
<path d="M344.30,272.40 H405.70" stroke-width="0.9" stroke-dasharray="0.9 3.4"/>
</g>
<g fill="none" stroke="#808080" stroke-width="1">
<rect x="88.20" y="18.70" width="23.70" height="17.10"/>
<rect x="170.30" y="18.60" width="23.20" height="17.00"/>
<rect x="288.40" y="51.20" width="25.10" height="12.80"/>
<rect x="370.00" y="51.20" width="24.30" height="13.00"/>
<rect x="98.40" y="84.40" width="23.10" height="14.00"/>
<rect x="179.40" y="84.40" width="23.70" height="14.10"/>
<rect x="301.20" y="118.30" width="19.90" height="14.70"/>
<rect x="382.20" y="118.30" width="20.30" height="13.80"/>
<rect x="106.30" y="152.20" width="20.20" height="15.20"/>
<rect x="188.50" y="152.30" width="20.30" height="15.20"/>
<rect x="298.30" y="185.00" width="19.40" height="16.00"/>
<rect x="379.50" y="185.00" width="20.10" height="16.00"/>
<rect x="97.40" y="219.30" width="21.90" height="18.40"/>
<rect x="180.40" y="219.20" width="21.10" height="19.30"/>
<rect x="285.70" y="250.30" width="21.60" height="16.80"/>
<rect x="367.00" y="250.30" width="22.90" height="17.20"/>
</g>
<g stroke="#000" stroke-width="1.1" fill="none">
<path d="M71.6,22 V246.5"/>
<path d="M254.6,22 V250.5"/>
<path d="M110.8,278.8 H218.5"/>
<path d="M294,278.8 H401"/>
</g>
<g fill="#000">
<path d="M71.6,16.3 L75.1,23.2 L68.1,23.2 Z"/>
<path d="M254.6,16.5 L258.1,23.3 L251.1,23.3 Z"/>
<path d="M224.8,278.8 L217.7,275.4 L217.7,282.2 Z"/>
<path d="M407,278.8 L400.5,275.6 L400.5,282 Z"/>
</g>
<rect x="471.0" y="316.0" width="10.1" height="5.2" fill="#000"/>
<rect x="471.65" y="325.05" width="8.8" height="3.5" fill="#fff" stroke="#000" stroke-width="1.3"/>
<rect x="477.7" y="446.1" width="10.1" height="4.8" fill="#000"/>
<rect x="478.35" y="454.4" width="8.8" height="3.55" fill="#fff" stroke="#000" stroke-width="1.3"/>
<path d="M42.40,314.10 V400.20 H136.50 M40.00,400.20 H42.40 M40.00,371.63 H42.40 M40.00,343.07 H42.40 M40.00,314.50 H42.40 M54.35,400.20 V401.90 M78.55,400.20 V401.90 M102.65,400.20 V401.90 M126.90,400.20 V401.90" stroke="#333" stroke-width="1" fill="none"/>
<path d="M49.90,333.57 V331.07 M48.10,331.07 H51.70" stroke="#000" stroke-width="1.3" fill="none"/>
<rect x="46.30" y="333.07" width="7.20" height="67.13" fill="#000"/>
<path d="M58.80,362.13 V360.49 M57.00,360.49 H60.60" stroke="#000" stroke-width="1.3" fill="none"/>
<rect x="55.85" y="362.28" width="5.90" height="37.91" fill="#fff" stroke="#000" stroke-width="1.3"/>
<path d="M74.10,327.14 V324.93 M72.30,324.93 H75.90" stroke="#000" stroke-width="1.3" fill="none"/>
<rect x="70.50" y="326.64" width="7.20" height="73.56" fill="#000"/>
<path d="M83.00,353.56 V350.78 M81.20,350.78 H84.80" stroke="#000" stroke-width="1.3" fill="none"/>
<rect x="80.05" y="353.71" width="5.90" height="46.48" fill="#fff" stroke="#000" stroke-width="1.3"/>
<path d="M98.20,365.71 V364.49 M96.40,364.49 H100.00" stroke="#000" stroke-width="1.3" fill="none"/>
<rect x="94.60" y="365.21" width="7.20" height="34.99" fill="#000"/>
<path d="M107.10,383.56 V382.20 M105.30,382.20 H108.90" stroke="#000" stroke-width="1.3" fill="none"/>
<rect x="104.15" y="383.71" width="5.90" height="16.49" fill="#fff" stroke="#000" stroke-width="1.3"/>
<path d="M122.40,377.85 V376.20 M120.60,376.20 H124.20" stroke="#000" stroke-width="1.3" fill="none"/>
<rect x="118.80" y="377.35" width="7.20" height="22.85" fill="#000"/>
<path d="M131.40,386.42 V384.77 M129.60,384.77 H133.20" stroke="#000" stroke-width="1.3" fill="none"/>
<rect x="128.45" y="386.57" width="5.90" height="13.63" fill="#fff" stroke="#000" stroke-width="1.3"/>
<path d="M155.00,313.50 V398.40 H247.50 M152.60,398.40 H155.00 M152.60,381.50 H155.00 M152.60,364.60 H155.00 M152.60,347.70 H155.00 M152.60,330.80 H155.00 M152.60,313.90 H155.00 M166.50,398.40 V400.10 M189.90,398.40 V400.10 M213.20,398.40 V400.10 M236.45,398.40 V400.10" stroke="#333" stroke-width="1" fill="none"/>
<path d="M162.10,389.60 V388.60 M160.30,388.60 H163.90" stroke="#000" stroke-width="1.3" fill="none"/>
<rect x="158.80" y="389.10" width="6.60" height="9.30" fill="#000"/>
<path d="M170.90,390.03 V389.02 M169.10,389.02 H172.70" stroke="#000" stroke-width="1.3" fill="none"/>
<rect x="168.25" y="390.18" width="5.30" height="8.22" fill="#fff" stroke="#000" stroke-width="1.3"/>
<path d="M185.30,370.17 V367.98 M183.50,367.98 H187.10" stroke="#000" stroke-width="1.3" fill="none"/>
<rect x="182.00" y="369.67" width="6.60" height="28.73" fill="#000"/>
<path d="M194.50,371.86 V369.67 M192.70,369.67 H196.30" stroke="#000" stroke-width="1.3" fill="none"/>
<rect x="191.85" y="372.01" width="5.30" height="26.39" fill="#fff" stroke="#000" stroke-width="1.3"/>
<path d="M208.80,380.31 V379.13 M207.00,379.13 H210.60" stroke="#000" stroke-width="1.3" fill="none"/>
<rect x="205.50" y="379.81" width="6.60" height="18.59" fill="#000"/>
<path d="M217.60,382.00 V380.82 M215.80,380.82 H219.40" stroke="#000" stroke-width="1.3" fill="none"/>
<rect x="214.95" y="382.15" width="5.30" height="16.25" fill="#fff" stroke="#000" stroke-width="1.3"/>
<path d="M232.10,332.14 V330.38 M230.30,330.38 H233.90" stroke="#000" stroke-width="1.3" fill="none"/>
<rect x="228.80" y="331.64" width="6.60" height="66.75" fill="#000"/>
<path d="M240.80,332.99 V331.22 M239.00,331.22 H242.60" stroke="#000" stroke-width="1.3" fill="none"/>
<rect x="238.15" y="333.14" width="5.30" height="65.26" fill="#fff" stroke="#000" stroke-width="1.3"/>
<path d="M268.80,314.60 V398.70 H361.00 M266.40,398.70 H268.80 M266.40,377.77 H268.80 M266.40,356.85 H268.80 M266.40,335.93 H268.80 M266.40,315.00 H268.80 M280.70,398.70 V400.40 M303.95,398.70 V400.40 M327.45,398.70 V400.40 M350.70,398.70 V400.40" stroke="#333" stroke-width="1" fill="none"/>
<path d="M276.30,396.69 V395.77 M274.50,395.77 H278.10" stroke="#000" stroke-width="1.3" fill="none"/>
<rect x="273.00" y="396.19" width="6.60" height="2.51" fill="#000"/>
<path d="M285.10,396.90 V395.98 M283.30,395.98 H286.90" stroke="#000" stroke-width="1.3" fill="none"/>
<rect x="282.45" y="397.05" width="5.30" height="1.65" fill="#fff" stroke="#000" stroke-width="1.3"/>
<path d="M299.60,362.58 V361.24 M297.80,361.24 H301.40" stroke="#000" stroke-width="1.3" fill="none"/>
<rect x="296.30" y="362.08" width="6.60" height="36.62" fill="#000"/>
<path d="M308.30,363.21 V361.87 M306.50,361.87 H310.10" stroke="#000" stroke-width="1.3" fill="none"/>
<rect x="305.65" y="363.36" width="5.30" height="35.34" fill="#fff" stroke="#000" stroke-width="1.3"/>
<path d="M323.30,387.48 V386.56 M321.50,386.56 H325.10" stroke="#000" stroke-width="1.3" fill="none"/>
<rect x="320.00" y="386.98" width="6.60" height="11.72" fill="#000"/>
<path d="M331.60,387.69 V386.77 M329.80,386.77 H333.40" stroke="#000" stroke-width="1.3" fill="none"/>
<rect x="328.95" y="387.84" width="5.30" height="10.86" fill="#fff" stroke="#000" stroke-width="1.3"/>
<path d="M346.30,340.19 V338.02 M344.50,338.02 H348.10" stroke="#000" stroke-width="1.3" fill="none"/>
<rect x="343.00" y="339.69" width="6.60" height="59.01" fill="#000"/>
<path d="M355.10,339.15 V337.18 M353.30,337.18 H356.90" stroke="#000" stroke-width="1.3" fill="none"/>
<rect x="352.45" y="339.30" width="5.30" height="59.40" fill="#fff" stroke="#000" stroke-width="1.3"/>
<path d="M374.90,314.20 V398.40 H470.00 M372.50,398.40 H374.90 M372.50,381.64 H374.90 M372.50,364.88 H374.90 M372.50,348.12 H374.90 M372.50,331.36 H374.90 M372.50,314.60 H374.90 M386.25,398.40 V400.10 M410.20,398.40 V400.10 M434.20,398.40 V400.10 M457.25,398.40 V400.10" stroke="#333" stroke-width="1" fill="none"/>
<path d="M381.90,397.56 V396.72 M380.10,396.72 H383.70" stroke="#000" stroke-width="1.3" fill="none"/>
<rect x="378.50" y="397.06" width="6.80" height="1.34" fill="#000"/>
<path d="M390.60,397.56 V396.72 M388.80,396.72 H392.40" stroke="#000" stroke-width="1.3" fill="none"/>
<rect x="387.85" y="397.71" width="5.50" height="0.69" fill="#fff" stroke="#000" stroke-width="1.3"/>
<path d="M405.60,362.03 V360.19 M403.80,360.19 H407.40" stroke="#000" stroke-width="1.3" fill="none"/>
<rect x="402.20" y="361.53" width="6.80" height="36.87" fill="#000"/>
<path d="M414.80,361.36 V359.18 M413.00,359.18 H416.60" stroke="#000" stroke-width="1.3" fill="none"/>
<rect x="412.05" y="361.51" width="5.50" height="36.89" fill="#fff" stroke="#000" stroke-width="1.3"/>
<path d="M429.60,389.85 V388.68 M427.80,388.68 H431.40" stroke="#000" stroke-width="1.3" fill="none"/>
<rect x="426.20" y="389.35" width="6.80" height="9.05" fill="#000"/>
<path d="M438.80,386.50 V382.98 M437.00,382.98 H440.60" stroke="#000" stroke-width="1.3" fill="none"/>
<rect x="436.05" y="386.65" width="5.50" height="11.75" fill="#fff" stroke="#000" stroke-width="1.3"/>
<path d="M452.60,327.50 V324.99 M450.80,324.99 H454.40" stroke="#000" stroke-width="1.3" fill="none"/>
<rect x="449.20" y="327.00" width="6.80" height="71.40" fill="#000"/>
<path d="M461.90,326.50 V323.65 M460.10,323.65 H463.70" stroke="#000" stroke-width="1.3" fill="none"/>
<rect x="459.15" y="326.65" width="5.50" height="71.75" fill="#fff" stroke="#000" stroke-width="1.3"/>
<path d="M43.00,446.60 V532.00 H138.80 M40.60,532.00 H43.00 M40.60,510.75 H43.00 M40.60,489.50 H43.00 M40.60,468.25 H43.00 M40.60,447.00 H43.00 M55.40,532.00 V533.70 M79.15,532.00 V533.70 M102.90,532.00 V533.70 M126.65,532.00 V533.70" stroke="#333" stroke-width="1" fill="none"/>
<path d="M51.00,524.74 V523.82 M49.20,523.82 H52.80" stroke="#000" stroke-width="1.3" fill="none"/>
<rect x="47.50" y="524.24" width="7.00" height="7.76" fill="#000"/>
<path d="M59.80,527.51 V526.16 M58.00,526.16 H61.60" stroke="#000" stroke-width="1.3" fill="none"/>
<rect x="56.95" y="527.66" width="5.70" height="4.34" fill="#fff" stroke="#000" stroke-width="1.3"/>
<path d="M74.80,477.25 V474.62 M73.00,474.62 H76.60" stroke="#000" stroke-width="1.3" fill="none"/>
<rect x="71.30" y="476.75" width="7.00" height="55.25" fill="#000"/>
<path d="M83.50,491.70 V489.07 M81.70,489.07 H85.30" stroke="#000" stroke-width="1.3" fill="none"/>
<rect x="80.65" y="491.85" width="5.70" height="40.15" fill="#fff" stroke="#000" stroke-width="1.3"/>
<path d="M98.50,466.20 V462.51 M96.70,462.51 H100.30" stroke="#000" stroke-width="1.3" fill="none"/>
<rect x="95.00" y="465.70" width="7.00" height="66.30" fill="#000"/>
<path d="M107.30,482.24 V479.09 M105.50,479.09 H109.10" stroke="#000" stroke-width="1.3" fill="none"/>
<rect x="104.45" y="482.39" width="5.70" height="49.61" fill="#fff" stroke="#000" stroke-width="1.3"/>
<path d="M122.30,530.91 V530.19 M120.50,530.19 H124.10" stroke="#000" stroke-width="1.3" fill="none"/>
<rect x="118.80" y="530.41" width="7.00" height="1.59" fill="#000"/>
<path d="M131.00,531.44 V530.62 M129.20,530.62 H132.80" stroke="#000" stroke-width="1.3" fill="none"/>
<rect x="128.15" y="531.59" width="5.70" height="0.41" fill="#fff" stroke="#000" stroke-width="1.3"/>
<path d="M154.50,445.40 V530.60 H250.00 M152.10,530.60 H154.50 M152.10,502.33 H154.50 M152.10,474.07 H154.50 M152.10,445.80 H154.50 M167.70,530.60 V532.30 M190.45,530.60 V532.30 M214.20,530.60 V532.30 M237.70,530.60 V532.30" stroke="#333" stroke-width="1" fill="none"/>
<path d="M163.80,527.57 V526.78 M162.00,526.78 H165.60" stroke="#000" stroke-width="1.3" fill="none"/>
<rect x="160.50" y="527.07" width="6.60" height="3.53" fill="#000"/>
<path d="M171.60,528.56 V527.77 M169.80,527.77 H173.40" stroke="#000" stroke-width="1.3" fill="none"/>
<rect x="168.95" y="528.71" width="5.30" height="1.89" fill="#fff" stroke="#000" stroke-width="1.3"/>
<path d="M186.30,500.71 V498.38 M184.50,498.38 H188.10" stroke="#000" stroke-width="1.3" fill="none"/>
<rect x="183.00" y="500.21" width="6.60" height="30.39" fill="#000"/>
<path d="M194.60,504.95 V503.04 M192.80,503.04 H196.40" stroke="#000" stroke-width="1.3" fill="none"/>
<rect x="191.95" y="505.10" width="5.30" height="25.50" fill="#fff" stroke="#000" stroke-width="1.3"/>
<path d="M210.10,527.57 V526.78 M208.30,526.78 H211.90" stroke="#000" stroke-width="1.3" fill="none"/>
<rect x="206.80" y="527.07" width="6.60" height="3.53" fill="#000"/>
<path d="M218.30,528.27 V527.49 M216.50,527.49 H220.10" stroke="#000" stroke-width="1.3" fill="none"/>
<rect x="215.65" y="528.42" width="5.30" height="2.18" fill="#fff" stroke="#000" stroke-width="1.3"/>
<path d="M233.30,464.67 V462.48 M231.50,462.48 H235.10" stroke="#000" stroke-width="1.3" fill="none"/>
<rect x="230.00" y="464.17" width="6.60" height="66.43" fill="#000"/>
<path d="M242.10,466.09 V464.46 M240.30,464.46 H243.90" stroke="#000" stroke-width="1.3" fill="none"/>
<rect x="239.45" y="466.24" width="5.30" height="64.36" fill="#fff" stroke="#000" stroke-width="1.3"/>
<path d="M268.80,445.10 V529.90 H362.00 M266.40,529.90 H268.80 M266.40,508.80 H268.80 M266.40,487.70 H268.80 M266.40,466.60 H268.80 M266.40,445.50 H268.80 M280.85,529.90 V531.60 M303.95,529.90 V531.60 M327.45,529.90 V531.60 M350.95,529.90 V531.60" stroke="#333" stroke-width="1" fill="none"/>
<path d="M276.60,527.24 V526.31 M274.80,526.31 H278.40" stroke="#000" stroke-width="1.3" fill="none"/>
<rect x="273.30" y="526.74" width="6.60" height="3.16" fill="#000"/>
<path d="M285.10,527.87 V526.95 M283.30,526.95 H286.90" stroke="#000" stroke-width="1.3" fill="none"/>
<rect x="282.45" y="528.02" width="5.30" height="1.88" fill="#fff" stroke="#000" stroke-width="1.3"/>
<path d="M299.60,499.17 V496.56 M297.80,496.56 H301.40" stroke="#000" stroke-width="1.3" fill="none"/>
<rect x="296.30" y="498.67" width="6.60" height="31.23" fill="#000"/>
<path d="M308.30,503.81 V502.05 M306.50,502.05 H310.10" stroke="#000" stroke-width="1.3" fill="none"/>
<rect x="305.65" y="503.96" width="5.30" height="25.94" fill="#fff" stroke="#000" stroke-width="1.3"/>
<path d="M323.30,528.71 V528.00 M321.50,528.00 H325.10" stroke="#000" stroke-width="1.3" fill="none"/>
<rect x="320.00" y="528.21" width="6.60" height="1.69" fill="#000"/>
<path d="M331.60,528.71 V528.00 M329.80,528.00 H333.40" stroke="#000" stroke-width="1.3" fill="none"/>
<rect x="328.95" y="528.86" width="5.30" height="1.04" fill="#fff" stroke="#000" stroke-width="1.3"/>
<path d="M346.60,471.32 V469.13 M344.80,469.13 H348.40" stroke="#000" stroke-width="1.3" fill="none"/>
<rect x="343.30" y="470.82" width="6.60" height="59.08" fill="#000"/>
<path d="M355.30,471.95 V469.76 M353.50,469.76 H357.10" stroke="#000" stroke-width="1.3" fill="none"/>
<rect x="352.65" y="472.10" width="5.30" height="57.80" fill="#fff" stroke="#000" stroke-width="1.3"/>
<path d="M381.20,443.80 V528.00 H476.30 M378.80,528.00 H381.20 M378.80,511.24 H381.20 M378.80,494.48 H381.20 M378.80,477.72 H381.20 M378.80,460.96 H381.20 M378.80,444.20 H381.20 M393.30,528.00 V529.70 M417.05,528.00 V529.70 M440.65,528.00 V529.70 M464.15,528.00 V529.70" stroke="#333" stroke-width="1" fill="none"/>
<path d="M389.05,524.81 V523.98 M387.25,523.98 H390.85" stroke="#000" stroke-width="1.3" fill="none"/>
<rect x="385.80" y="524.31" width="6.50" height="3.69" fill="#000"/>
<path d="M397.55,525.48 V524.65 M395.75,524.65 H399.35" stroke="#000" stroke-width="1.3" fill="none"/>
<rect x="394.95" y="525.63" width="5.20" height="2.37" fill="#fff" stroke="#000" stroke-width="1.3"/>
<path d="M412.55,507.38 V506.21 M410.75,506.21 H414.35" stroke="#000" stroke-width="1.3" fill="none"/>
<rect x="409.30" y="506.88" width="6.50" height="21.12" fill="#000"/>
<path d="M421.55,509.39 V508.22 M419.75,508.22 H423.35" stroke="#000" stroke-width="1.3" fill="none"/>
<rect x="418.95" y="509.54" width="5.20" height="18.46" fill="#fff" stroke="#000" stroke-width="1.3"/>
<path d="M436.25,523.47 V522.64 M434.45,522.64 H438.05" stroke="#000" stroke-width="1.3" fill="none"/>
<rect x="433.00" y="522.97" width="6.50" height="5.03" fill="#000"/>
<path d="M445.05,524.48 V523.64 M443.25,523.64 H446.85" stroke="#000" stroke-width="1.3" fill="none"/>
<rect x="442.45" y="524.63" width="5.20" height="3.37" fill="#fff" stroke="#000" stroke-width="1.3"/>
<path d="M459.55,465.15 V462.64 M457.75,462.64 H461.35" stroke="#000" stroke-width="1.3" fill="none"/>
<rect x="456.30" y="464.65" width="6.50" height="63.35" fill="#000"/>
<path d="M468.75,465.48 V462.97 M466.95,462.97 H470.55" stroke="#000" stroke-width="1.3" fill="none"/>
<rect x="466.15" y="465.63" width="5.20" height="62.37" fill="#fff" stroke="#000" stroke-width="1.3"/>
<path d="M56.85,353.50 L57.52,354.95 L59.11,355.14 L57.94,356.23 L58.25,357.80 L56.85,357.02 L55.45,357.80 L55.76,356.23 L54.59,355.14 L56.18,354.95 Z M61.35,353.50 L62.02,354.95 L63.61,355.14 L62.44,356.23 L62.75,357.80 L61.35,357.02 L59.95,357.80 L60.26,356.23 L59.09,355.14 L60.68,354.95 Z M81.05,344.90 L81.71,346.32 L83.26,346.50 L82.11,347.57 L82.41,349.10 L81.05,348.34 L79.69,349.10 L79.99,347.57 L78.84,346.50 L80.39,346.32 Z M85.55,344.90 L86.21,346.32 L87.76,346.50 L86.61,347.57 L86.91,349.10 L85.55,348.34 L84.19,349.10 L84.49,347.57 L83.34,346.50 L84.89,346.32 Z M105.15,378.10 L105.81,379.52 L107.36,379.70 L106.21,380.77 L106.51,382.30 L105.15,381.54 L103.79,382.30 L104.09,380.77 L102.94,379.70 L104.49,379.52 Z M109.65,378.10 L110.31,379.52 L111.86,379.70 L110.71,380.77 L111.01,382.30 L109.65,381.54 L108.29,382.30 L108.59,380.77 L107.44,379.70 L108.99,379.52 Z M131.70,380.40 L132.31,381.72 L133.75,381.89 L132.68,382.88 L132.97,384.30 L131.70,383.59 L130.43,384.30 L130.72,382.88 L129.65,381.89 L131.09,381.72 Z M60.10,520.70 L60.82,522.26 L62.52,522.46 L61.26,523.62 L61.59,525.30 L60.10,524.46 L58.61,525.30 L58.94,523.62 L57.68,522.46 L59.38,522.26 Z M83.80,483.50 L84.47,484.95 L86.06,485.14 L84.89,486.23 L85.20,487.80 L83.80,487.02 L82.40,487.80 L82.71,486.23 L81.54,485.14 L83.13,484.95 Z M107.60,472.20 L108.24,473.59 L109.76,473.77 L108.63,474.80 L108.93,476.30 L107.60,475.55 L106.27,476.30 L106.57,474.80 L105.44,473.77 L106.96,473.59 Z M131.30,524.70 L131.97,526.15 L133.56,526.34 L132.39,527.43 L132.70,529.00 L131.30,528.22 L129.90,529.00 L130.21,527.43 L129.04,526.34 L130.63,526.15 Z" fill="#000" stroke="#000" stroke-width="0.4" stroke-linejoin="round"/>
<text x="0.98" y="14.20" font-size="16.57" textLength="12.20" lengthAdjust="spacingAndGlyphs">A</text>
<text x="103.70" y="10.60" font-size="11.43" textLength="16.95" lengthAdjust="spacingAndGlyphs">WT</text>
<text x="174.44" y="10.90" font-size="11.57" textLength="34.31" lengthAdjust="spacingAndGlyphs">COX-1</text>
<text x="209.49" y="6.01" font-size="3.48" textLength="7.78" lengthAdjust="spacingAndGlyphs">-/-</text>
<text x="285.50" y="10.40" font-size="10.86" textLength="16.35" lengthAdjust="spacingAndGlyphs">WT</text>
<text x="358.03" y="10.70" font-size="11.29" textLength="35.13" lengthAdjust="spacingAndGlyphs">COX-1</text>
<text x="393.78" y="6.01" font-size="3.48" textLength="8.00" lengthAdjust="spacingAndGlyphs">-/-</text>
<text x="15.61" y="43.80" font-size="10.86" textLength="18.45" lengthAdjust="spacingAndGlyphs">BM</text>
<text x="15.81" y="111.60" font-size="10.57" textLength="15.59" lengthAdjust="spacingAndGlyphs">SP</text>
<text x="15.51" y="179.50" font-size="11.57" textLength="16.46" lengthAdjust="spacingAndGlyphs">PB</text>
<text x="15.48" y="246.80" font-size="11.00" textLength="16.33" lengthAdjust="spacingAndGlyphs">LN</text>
<text x="116.87" y="29.50" font-size="8.86" textLength="17.75" lengthAdjust="spacingAndGlyphs">53.2</text>
<text x="196.17" y="28.70" font-size="8.71" textLength="17.75" lengthAdjust="spacingAndGlyphs">28.7</text>
<text x="290.23" y="47.60" font-size="8.86" textLength="18.31" lengthAdjust="spacingAndGlyphs">12.6</text>
<text x="371.25" y="47.60" font-size="8.43" textLength="17.20" lengthAdjust="spacingAndGlyphs">11.1</text>
<text x="122.57" y="95.10" font-size="8.71" textLength="18.27" lengthAdjust="spacingAndGlyphs">43.0</text>
<text x="204.67" y="95.40" font-size="8.29" textLength="17.65" lengthAdjust="spacingAndGlyphs">28.9</text>
<text x="301.37" y="115.50" font-size="8.86" textLength="18.27" lengthAdjust="spacingAndGlyphs">31.3</text>
<text x="382.97" y="115.50" font-size="8.86" textLength="17.65" lengthAdjust="spacingAndGlyphs">29.6</text>
<text x="125.48" y="162.80" font-size="8.43" textLength="17.01" lengthAdjust="spacingAndGlyphs">23.1</text>
<text x="206.93" y="162.90" font-size="8.29" textLength="17.65" lengthAdjust="spacingAndGlyphs">11.7</text>
<text x="298.27" y="183.10" font-size="8.29" textLength="17.96" lengthAdjust="spacingAndGlyphs">20.6</text>
<text x="378.85" y="183.10" font-size="8.29" textLength="17.54" lengthAdjust="spacingAndGlyphs">19.8</text>
<text x="122.32" y="232.60" font-size="8.29" textLength="18.52" lengthAdjust="spacingAndGlyphs">19.3</text>
<text x="205.79" y="233.10" font-size="8.43" textLength="11.84" lengthAdjust="spacingAndGlyphs">9.1</text>
<text x="286.96" y="247.50" font-size="8.71" textLength="18.48" lengthAdjust="spacingAndGlyphs">82.6</text>
<text x="367.87" y="247.50" font-size="8.71" textLength="18.13" lengthAdjust="spacingAndGlyphs">80.5</text>
<text transform="translate(74.00,270.67) rotate(-90)" x="0" y="0" font-size="9.86" textLength="21.23" lengthAdjust="spacingAndGlyphs">B220</text>
<text x="82.63" y="282.10" font-size="9.00" textLength="23.97" lengthAdjust="spacingAndGlyphs">CD19</text>
<text transform="translate(258.60,269.72) rotate(-90)" x="0" y="0" font-size="8.71" textLength="17.79" lengthAdjust="spacingAndGlyphs">SSC</text>
<text x="264.32" y="281.60" font-size="8.86" textLength="24.59" lengthAdjust="spacingAndGlyphs">CD3e</text>
<text x="-0.19" y="315.50" font-size="14.71" textLength="12.40" lengthAdjust="spacingAndGlyphs">B</text>
<text x="0.71" y="444.30" font-size="14.71" textLength="11.45" lengthAdjust="spacingAndGlyphs">C</text>
<text transform="translate(24.10,379.66) rotate(-90)" x="0" y="0" font-size="10.40" textLength="47.35" lengthAdjust="spacingAndGlyphs">% of cells</text>
<text transform="translate(25.80,532.01) rotate(-90)" x="0" y="0" font-size="8.90" textLength="82.17" lengthAdjust="spacingAndGlyphs">Cell number (×10</text>
<text transform="translate(20.05,448.86) rotate(-90)" x="0" y="0" font-size="5.79" textLength="3.50" lengthAdjust="spacingAndGlyphs">4</text>
<text transform="translate(25.80,444.50) rotate(-90)" x="0" y="0" font-size="8.90" textLength="2.06" lengthAdjust="spacingAndGlyphs">)</text>
<text x="67.76" y="313.00" font-size="9.29" textLength="26.80" lengthAdjust="spacingAndGlyphs">B220</text>
<text x="98.25" y="313.00" font-size="9.29" textLength="28.10" lengthAdjust="spacingAndGlyphs">CD19</text>
<text x="183.87" y="312.40" font-size="9.86" textLength="27.06" lengthAdjust="spacingAndGlyphs">CD3e</text>
<text x="295.08" y="312.60" font-size="8.71" textLength="26.44" lengthAdjust="spacingAndGlyphs">CD3e</text>
<text x="325.37" y="312.60" font-size="8.71" textLength="21.24" lengthAdjust="spacingAndGlyphs">CD4</text>
<text x="400.38" y="312.60" font-size="8.71" textLength="26.34" lengthAdjust="spacingAndGlyphs">CD3e</text>
<text x="430.56" y="312.60" font-size="8.71" textLength="21.72" lengthAdjust="spacingAndGlyphs">CD8</text>
<text x="68.36" y="442.60" font-size="9.00" textLength="26.80" lengthAdjust="spacingAndGlyphs">B220</text>
<text x="98.99" y="442.60" font-size="9.00" textLength="26.03" lengthAdjust="spacingAndGlyphs">CD19</text>
<text x="183.18" y="442.40" font-size="9.29" textLength="26.75" lengthAdjust="spacingAndGlyphs">CD3e</text>
<text x="293.68" y="442.30" font-size="8.57" textLength="26.75" lengthAdjust="spacingAndGlyphs">CD3e</text>
<text x="324.38" y="442.30" font-size="8.57" textLength="20.93" lengthAdjust="spacingAndGlyphs">CD4</text>
<text x="406.68" y="442.30" font-size="8.57" textLength="26.44" lengthAdjust="spacingAndGlyphs">CD3e</text>
<text x="437.35" y="442.30" font-size="8.57" textLength="21.93" lengthAdjust="spacingAndGlyphs">CD8</text>
<text x="485.20" y="321.00" font-size="6.00" textLength="11.13" lengthAdjust="spacingAndGlyphs">WT</text>
<text x="485.05" y="331.00" font-size="6.00" textLength="21.16" lengthAdjust="spacingAndGlyphs">COX-1</text>
<text x="506.85" y="327.13" font-size="2.97" textLength="4.67" lengthAdjust="spacingAndGlyphs">-/-</text>
<text x="492.10" y="450.50" font-size="5.71" textLength="10.93" lengthAdjust="spacingAndGlyphs">WT</text>
<text x="491.75" y="460.60" font-size="6.00" textLength="21.57" lengthAdjust="spacingAndGlyphs">COX-1</text>
<text x="513.56" y="456.34" font-size="2.58" textLength="4.44" lengthAdjust="spacingAndGlyphs">-/-</text>
<text x="34.01" y="403.20" font-size="8.57" textLength="4.86" lengthAdjust="spacingAndGlyphs">0</text>
<text x="29.59" y="374.63" font-size="8.57" textLength="9.32" lengthAdjust="spacingAndGlyphs">20</text>
<text x="29.59" y="346.07" font-size="8.57" textLength="9.32" lengthAdjust="spacingAndGlyphs">40</text>
<text x="29.59" y="317.50" font-size="8.57" textLength="9.32" lengthAdjust="spacingAndGlyphs">60</text>
<text x="47.06" y="411.70" font-size="8.43" textLength="14.41" lengthAdjust="spacingAndGlyphs">BM</text>
<text x="72.31" y="411.70" font-size="8.43" textLength="12.56" lengthAdjust="spacingAndGlyphs">SP</text>
<text x="95.83" y="411.70" font-size="8.43" textLength="13.30" lengthAdjust="spacingAndGlyphs">PB</text>
<text x="120.26" y="411.70" font-size="8.43" textLength="13.11" lengthAdjust="spacingAndGlyphs">LN</text>
<text x="146.61" y="401.40" font-size="8.57" textLength="4.86" lengthAdjust="spacingAndGlyphs">0</text>
<text x="142.19" y="384.50" font-size="8.57" textLength="9.32" lengthAdjust="spacingAndGlyphs">20</text>
<text x="142.19" y="367.60" font-size="8.57" textLength="9.32" lengthAdjust="spacingAndGlyphs">40</text>
<text x="142.19" y="350.70" font-size="8.57" textLength="9.32" lengthAdjust="spacingAndGlyphs">60</text>
<text x="142.19" y="333.80" font-size="8.57" textLength="9.32" lengthAdjust="spacingAndGlyphs">80</text>
<text x="137.32" y="316.90" font-size="8.57" textLength="14.25" lengthAdjust="spacingAndGlyphs">100</text>
<text x="159.21" y="409.50" font-size="8.14" textLength="14.41" lengthAdjust="spacingAndGlyphs">BM</text>
<text x="183.66" y="409.50" font-size="8.14" textLength="12.56" lengthAdjust="spacingAndGlyphs">SP</text>
<text x="206.38" y="409.50" font-size="8.14" textLength="13.30" lengthAdjust="spacingAndGlyphs">PB</text>
<text x="229.81" y="409.50" font-size="8.14" textLength="13.11" lengthAdjust="spacingAndGlyphs">LN</text>
<text x="260.41" y="401.70" font-size="8.57" textLength="4.86" lengthAdjust="spacingAndGlyphs">0</text>
<text x="255.77" y="380.77" font-size="8.57" textLength="9.55" lengthAdjust="spacingAndGlyphs">10</text>
<text x="255.99" y="359.85" font-size="8.57" textLength="9.32" lengthAdjust="spacingAndGlyphs">20</text>
<text x="255.99" y="338.93" font-size="8.57" textLength="9.32" lengthAdjust="spacingAndGlyphs">30</text>
<text x="255.99" y="318.00" font-size="8.57" textLength="9.32" lengthAdjust="spacingAndGlyphs">40</text>
<text x="273.41" y="410.30" font-size="8.00" textLength="14.41" lengthAdjust="spacingAndGlyphs">BM</text>
<text x="297.71" y="410.30" font-size="8.00" textLength="12.56" lengthAdjust="spacingAndGlyphs">SP</text>
<text x="320.63" y="410.30" font-size="8.00" textLength="13.30" lengthAdjust="spacingAndGlyphs">PB</text>
<text x="344.06" y="410.30" font-size="8.00" textLength="13.11" lengthAdjust="spacingAndGlyphs">LN</text>
<text x="366.51" y="401.40" font-size="8.57" textLength="4.86" lengthAdjust="spacingAndGlyphs">0</text>
<text x="366.74" y="384.64" font-size="8.57" textLength="4.62" lengthAdjust="spacingAndGlyphs">5</text>
<text x="361.87" y="367.88" font-size="8.57" textLength="9.55" lengthAdjust="spacingAndGlyphs">10</text>
<text x="361.87" y="351.12" font-size="8.57" textLength="9.55" lengthAdjust="spacingAndGlyphs">15</text>
<text x="362.09" y="334.36" font-size="8.57" textLength="9.32" lengthAdjust="spacingAndGlyphs">20</text>
<text x="362.09" y="317.60" font-size="8.57" textLength="9.32" lengthAdjust="spacingAndGlyphs">25</text>
<text x="378.96" y="409.80" font-size="8.29" textLength="14.41" lengthAdjust="spacingAndGlyphs">BM</text>
<text x="403.96" y="409.80" font-size="8.29" textLength="12.56" lengthAdjust="spacingAndGlyphs">SP</text>
<text x="427.38" y="409.80" font-size="8.29" textLength="13.30" lengthAdjust="spacingAndGlyphs">PB</text>
<text x="450.61" y="409.80" font-size="8.29" textLength="13.11" lengthAdjust="spacingAndGlyphs">LN</text>
<text x="34.61" y="535.00" font-size="8.57" textLength="4.86" lengthAdjust="spacingAndGlyphs">0</text>
<text x="30.19" y="513.75" font-size="8.57" textLength="9.32" lengthAdjust="spacingAndGlyphs">20</text>
<text x="30.19" y="492.50" font-size="8.57" textLength="9.32" lengthAdjust="spacingAndGlyphs">40</text>
<text x="30.19" y="471.25" font-size="8.57" textLength="9.32" lengthAdjust="spacingAndGlyphs">60</text>
<text x="30.19" y="450.00" font-size="8.57" textLength="9.32" lengthAdjust="spacingAndGlyphs">80</text>
<text x="48.11" y="542.80" font-size="8.29" textLength="14.41" lengthAdjust="spacingAndGlyphs">BM</text>
<text x="72.91" y="542.80" font-size="8.29" textLength="12.56" lengthAdjust="spacingAndGlyphs">SP</text>
<text x="96.08" y="542.80" font-size="8.29" textLength="13.30" lengthAdjust="spacingAndGlyphs">PB</text>
<text x="120.01" y="542.80" font-size="8.29" textLength="13.11" lengthAdjust="spacingAndGlyphs">LN</text>
<text x="146.11" y="533.60" font-size="8.57" textLength="4.86" lengthAdjust="spacingAndGlyphs">0</text>
<text x="141.69" y="505.33" font-size="8.57" textLength="9.32" lengthAdjust="spacingAndGlyphs">20</text>
<text x="141.69" y="477.07" font-size="8.57" textLength="9.32" lengthAdjust="spacingAndGlyphs">40</text>
<text x="141.69" y="448.80" font-size="8.57" textLength="9.32" lengthAdjust="spacingAndGlyphs">60</text>
<text x="160.41" y="541.50" font-size="8.71" textLength="14.41" lengthAdjust="spacingAndGlyphs">BM</text>
<text x="184.21" y="541.50" font-size="8.71" textLength="12.56" lengthAdjust="spacingAndGlyphs">SP</text>
<text x="207.38" y="541.50" font-size="8.71" textLength="13.30" lengthAdjust="spacingAndGlyphs">PB</text>
<text x="231.06" y="541.50" font-size="8.71" textLength="13.11" lengthAdjust="spacingAndGlyphs">LN</text>
<text x="260.41" y="532.90" font-size="8.57" textLength="4.86" lengthAdjust="spacingAndGlyphs">0</text>
<text x="255.77" y="511.80" font-size="8.57" textLength="9.55" lengthAdjust="spacingAndGlyphs">10</text>
<text x="255.99" y="490.70" font-size="8.57" textLength="9.32" lengthAdjust="spacingAndGlyphs">20</text>
<text x="255.99" y="469.60" font-size="8.57" textLength="9.32" lengthAdjust="spacingAndGlyphs">30</text>
<text x="255.99" y="448.50" font-size="8.57" textLength="9.32" lengthAdjust="spacingAndGlyphs">40</text>
<text x="273.56" y="540.70" font-size="8.43" textLength="14.41" lengthAdjust="spacingAndGlyphs">BM</text>
<text x="297.71" y="540.70" font-size="8.43" textLength="12.56" lengthAdjust="spacingAndGlyphs">SP</text>
<text x="320.63" y="540.70" font-size="8.43" textLength="13.30" lengthAdjust="spacingAndGlyphs">PB</text>
<text x="344.31" y="540.70" font-size="8.43" textLength="13.11" lengthAdjust="spacingAndGlyphs">LN</text>
<text x="372.81" y="531.00" font-size="8.57" textLength="4.86" lengthAdjust="spacingAndGlyphs">0</text>
<text x="373.04" y="514.24" font-size="8.57" textLength="4.62" lengthAdjust="spacingAndGlyphs">5</text>
<text x="368.17" y="497.48" font-size="8.57" textLength="9.55" lengthAdjust="spacingAndGlyphs">10</text>
<text x="368.17" y="480.72" font-size="8.57" textLength="9.55" lengthAdjust="spacingAndGlyphs">15</text>
<text x="368.39" y="463.96" font-size="8.57" textLength="9.32" lengthAdjust="spacingAndGlyphs">20</text>
<text x="368.39" y="447.20" font-size="8.57" textLength="9.32" lengthAdjust="spacingAndGlyphs">25</text>
<text x="386.01" y="539.10" font-size="8.00" textLength="14.41" lengthAdjust="spacingAndGlyphs">BM</text>
<text x="410.81" y="539.10" font-size="8.00" textLength="12.56" lengthAdjust="spacingAndGlyphs">SP</text>
<text x="433.83" y="539.10" font-size="8.00" textLength="13.30" lengthAdjust="spacingAndGlyphs">PB</text>
<text x="457.51" y="539.10" font-size="8.00" textLength="13.11" lengthAdjust="spacingAndGlyphs">LN</text>
<path d="M94.90,305.60H98.60M96.75,303.80V307.40M126.60,305.60H130.30M128.45,303.80V307.40M211.20,306.10H215.20M213.20,304.20V308.00M321.60,305.85H325.30M323.45,304.00V307.70M347.60,305.85H351.20M349.40,304.00V307.70M427.00,305.85H430.70M428.85,304.00V307.70M452.90,305.85H456.60M454.75,304.00V307.70M95.30,435.85H98.90M97.10,434.00V437.70M125.60,435.85H129.30M127.45,434.00V437.70M210.40,436.00H214.60M212.50,434.20V437.80M320.70,435.60H324.30M322.50,433.80V437.40M346.30,435.60H349.90M348.10,433.80V437.40M433.60,435.80H437.40M435.50,434.00V437.60M459.90,435.80H463.50M461.70,434.00V437.60" stroke="#000" stroke-width="1.35" fill="none"/>
</svg></body></html>
